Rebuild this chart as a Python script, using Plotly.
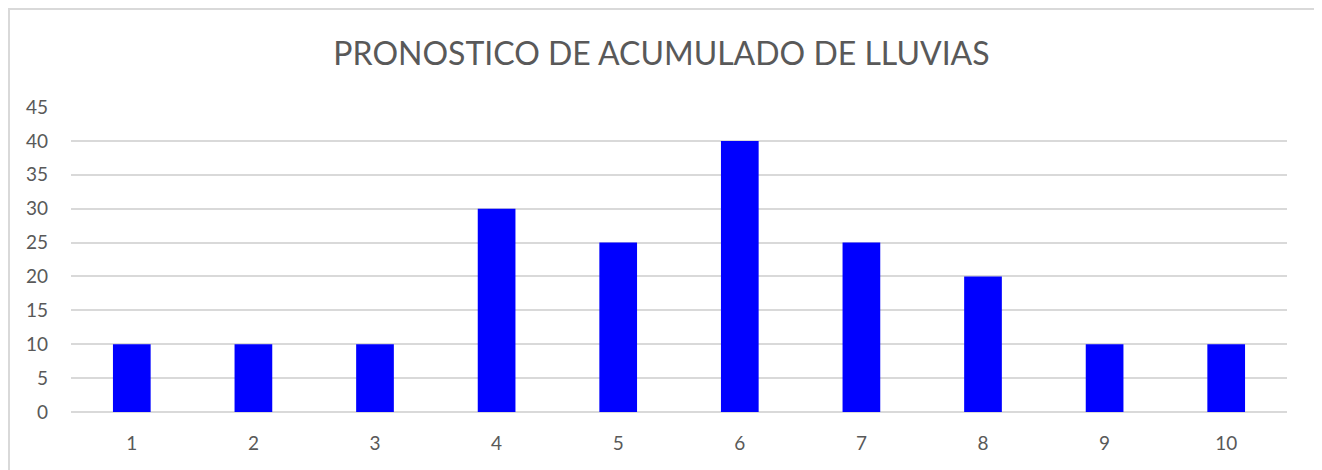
import plotly.graph_objects as go

categories = ["1", "2", "3", "4", "5", "6", "7", "8", "9", "10"]
values = [10, 10, 10, 30, 25, 40, 25, 20, 10, 10]
y_ticks = [0, 5, 10, 15, 20, 25, 30, 35, 40, 45]

TEXT = "#595959"
GRID = "#d9d9d9"
FONT = "Lato, Open Sans, sans-serif"

fig = go.Figure(go.Bar(x=categories, y=values, marker=dict(color="#0000ff", line=dict(width=0))))

# page body has an 8px margin, so the canvas is laid out 8px up/left of the target
W, H = 1314, 462
L, T = 63, 99
R = W - 1279
B = H - 404
pw, ph = W - L - R, H - T - B

fig.update_layout(
    width=W, height=H,
    margin=dict(l=L, r=R, t=T, b=B, pad=0),
    paper_bgcolor="white", plot_bgcolor="white",
    bargap=0.69,
    showlegend=False,
    title=dict(text="PRONOSTICO DE ACUMULADO DE LLUVIAS", x=653.5 / W, xref="container", xanchor="center",
               y=(H - 46) / H, yanchor="middle",
               font=dict(family=FONT, size=32, color=TEXT)),
    font=dict(family=FONT, size=19, color=TEXT),
    xaxis=dict(type="category", showgrid=False, showline=False, zeroline=False,
               ticks="", tickfont=dict(size=19, color=TEXT), ticklabelstandoff=18),
    yaxis=dict(range=[0, 45], tickvals=y_ticks, showgrid=True, gridcolor=GRID, gridwidth=2,
               zeroline=True, zerolinecolor=GRID, zerolinewidth=2, showline=False,
               ticks="", tickfont=dict(size=19, color=TEXT), ticklabelstandoff=22),
    shapes=[dict(type="rect", xref="paper", yref="paper",
                 x0=(1 - L) / pw, x1=(1308 - L) / pw,
                 y0=(H - B - 480) / ph, y1=(H - B - 1) / ph,
                 line=dict(color=GRID, width=2), fillcolor="rgba(0,0,0,0)", layer="below")],
)

fig.write_html("out.html")
